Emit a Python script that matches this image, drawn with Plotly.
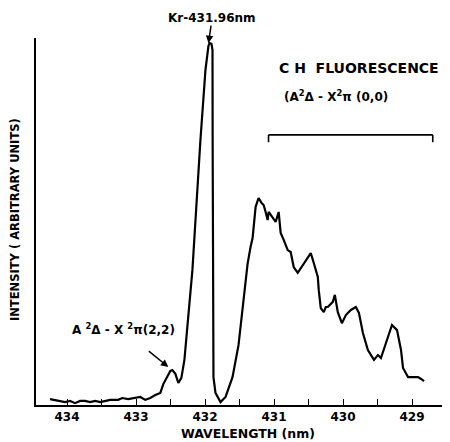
import plotly.graph_objects as go

# Spectrum (wavelength in nm, intensity in arbitrary units)
wavelength = [
    434.247, 434.174, 434.102, 434.029, 433.956, 433.884, 433.811, 433.738, 433.666, 433.593,
    433.520, 433.448, 433.375, 433.259, 433.201, 433.113, 433.012, 432.939, 432.866, 432.794,
    432.721, 432.648, 432.605, 432.547, 432.503, 432.474, 432.430, 432.387, 432.343, 432.299,
    432.241, 432.183, 432.067, 431.994, 431.951, 431.936, 431.907, 431.892, 431.890, 431.889,
    431.885, 431.878, 431.849, 431.776, 431.703, 431.602, 431.515, 431.456, 431.384, 431.340,
    431.311, 431.267, 431.224, 431.180, 431.151, 431.122, 431.093, 431.078, 431.049, 431.020,
    430.977, 430.933, 430.904, 430.860, 430.802, 430.759, 430.715, 430.657, 430.613, 430.570,
    430.512, 430.468, 430.424, 430.366, 430.352, 430.323, 430.279, 430.250, 430.221, 430.148,
    430.119, 430.076, 430.017, 429.959, 429.887, 429.814, 429.770, 429.712, 429.640, 429.552,
    429.494, 429.451, 429.378, 429.291, 429.218, 429.160, 429.131, 429.058, 428.985, 428.913,
    428.869, 428.826,
]
intensity = [
    1.6, 1.4, 1.1, 0.8, 1.1, 0.5, 1.1, 1.1, 0.8, 1.1,
    0.8, 1.1, 1.4, 1.4, 1.9, 1.6, 1.9, 2.2, 1.4, 1.9,
    2.7, 3.3, 5.7, 7.9, 9.3, 9.5, 8.5, 6.0, 7.4, 12.3,
    24.0, 36.8, 72.2, 91.3, 97.8, 98.6, 98.4, 96.7, 72.2, 36.8,
    15.0, 7.6, 3.3, 0.8, 2.2, 7.6, 16.3, 25.6, 38.4, 43.1,
    45.5, 54.0, 56.4, 55.0, 54.5, 52.6, 50.4, 52.6, 51.8, 51.2,
    49.9, 52.6, 46.9, 45.0, 42.2, 41.7, 37.6, 36.0, 37.3, 38.7,
    40.1, 41.4, 38.7, 34.9, 31.3, 26.4, 25.3, 26.7, 26.7, 28.1,
    30.0, 25.3, 22.3, 24.5, 25.9, 26.7, 25.1, 19.6, 15.0, 12.3,
    13.6, 12.8, 16.9, 21.8, 20.4, 15.0, 10.1, 7.6, 7.6, 7.6,
    7.1, 6.5,
]

x_tick_values = [434, 433.5, 433, 432.5, 432, 431.5, 431, 430.5, 430, 429.5, 429, 428.5]
x_tick_labels = ["434", "", "433", "", "432", "", "431", "", "430", "", "429", ""]

x_range = [434.45, 428.45]
y_range = [0, 100]

# Annotation anchors (data units)
kr_peak = (431.95, 98.6)
kr_arrow_tail = (431.91, 103.8)
band22_label_pos = (433.186, 20.7)
band22_arrow_tail = (432.837, 15.0)
band22_arrow_head = (432.532, 10.35)
title_pos = (429.77, 91.8)
band00_label_pos = (430.105, 84.2)
band00_start, band00_end = 431.08, 428.70
bracket_y, bracket_tick_y = 73.6, 71.6

FONT = "DejaVu Sans"


def tfont(size):
    return dict(family=FONT, size=size, color="black", weight="bold")


fig = go.Figure()
fig.add_trace(go.Scatter(
    x=wavelength, y=intensity, mode="lines",
    line=dict(color="black", width=2.2),
    hoverinfo="skip", showlegend=False,
))

# bracket over the (0,0) band
fig.add_shape(type="line", x0=band00_start, x1=band00_end, y0=bracket_y, y1=bracket_y,
              line=dict(color="black", width=1.6))
for bx in (band00_start, band00_end):
    fig.add_shape(type="line", x0=bx, x1=bx, y0=bracket_y, y1=bracket_tick_y,
                  line=dict(color="black", width=1.6))

ann = []
ann.append(dict(xref="paper", yref="paper", x=0.425, y=1.054, text="Kr-431.96nm",
                showarrow=False, xanchor="center", yanchor="middle", font=tfont(12)))
ann.append(dict(x=kr_peak[0], y=kr_peak[1], ax=kr_arrow_tail[0], ay=kr_arrow_tail[1],
                axref="x", ayref="y", text="", showarrow=True, arrowhead=2,
                arrowsize=1, arrowwidth=1.5, arrowcolor="black"))
ann.append(dict(x=band22_label_pos[0], y=band22_label_pos[1],
                text="A <sup>2</sup>Δ - X <sup>2</sup>π(2,2)", showarrow=False,
                xanchor="center", yanchor="middle", font=tfont(12)))
ann.append(dict(x=band22_arrow_head[0], y=band22_arrow_head[1],
                ax=band22_arrow_tail[0], ay=band22_arrow_tail[1],
                axref="x", ayref="y", text="", showarrow=True, arrowhead=2,
                arrowsize=1, arrowwidth=1.5, arrowcolor="black"))
ann.append(dict(x=title_pos[0], y=title_pos[1], text="C H  FLUORESCENCE", showarrow=False,
                xanchor="center", yanchor="middle", font=tfont(14)))
ann.append(dict(x=band00_label_pos[0], y=band00_label_pos[1],
                text="(A<sup>2</sup>Δ - X<sup>2</sup>π (0,0)", showarrow=False,
                xanchor="center", yanchor="middle", font=tfont(12)))
ann.append(dict(xref="paper", yref="paper", x=0.512, y=-0.079, text="WAVELENGTH (nm)",
                xanchor="center", yanchor="middle", showarrow=False, font=tfont(12.5)))
ann.append(dict(xref="paper", yref="paper", x=-0.0507, y=0.504,
                text="INTENSITY ( ARBITRARY UNITS)", textangle=-90,
                xanchor="center", yanchor="middle", showarrow=False, font=tfont(11.5)))

fig.update_layout(
    width=450, height=442,
    margin=dict(l=28, r=8, t=30, b=45, autoexpand=False),
    paper_bgcolor="white", plot_bgcolor="white",
    annotations=ann,
    xaxis=dict(range=x_range, showgrid=False, zeroline=False, showline=True,
               linecolor="black", linewidth=1.6, ticks="inside", ticklen=6,
               tickwidth=1.3, tickcolor="black", tickvals=x_tick_values,
               ticktext=x_tick_labels, tickfont=tfont(12), automargin=False),
    yaxis=dict(range=y_range, showgrid=False, zeroline=False, showline=True,
               linecolor="black", linewidth=1.6, showticklabels=False, ticks="",
               automargin=False),
)

fig.write_html("out.html")
